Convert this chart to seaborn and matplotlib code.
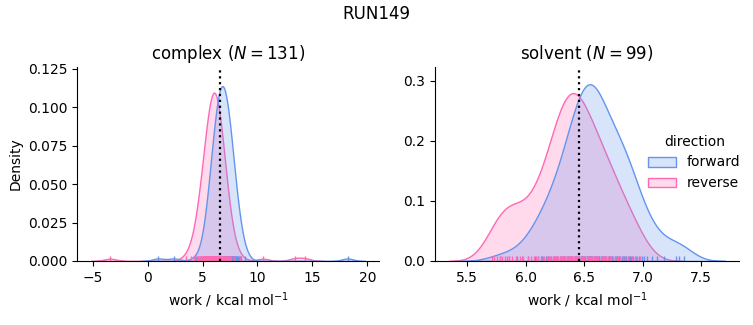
import matplotlib
matplotlib.use("Agg")
import matplotlib.pyplot as plt
import numpy as np
import pandas as pd
import seaborn as sns

# ---------------- data ----------------
phases = ["complex", "solvent"]
directions = ["forward", "reverse"]
colors = ["#6495ED", "#FF69B4"]
title_text = "RUN149"
estimates = [6.55, 6.46]
n_pairs = [131, 99]

complex_forward = [
    0.96, 2.40, 4.40,
    5.12, 5.25, 5.36, 5.46, 5.50, 5.54, 5.58,
    5.61, 5.65, 5.69, 5.72, 5.76, 5.79, 5.83, 5.86, 5.90, 5.93, 5.96, 5.99, 6.02, 6.05,
    6.08, 6.10, 6.12, 6.14, 6.15, 6.17, 6.19, 6.21, 6.23, 6.25, 6.27, 6.28, 6.30, 6.32,
    6.34, 6.36, 6.38, 6.39, 6.41, 6.43, 6.45, 6.47, 6.49, 6.50, 6.52, 6.54, 6.56,
    6.58, 6.59, 6.61, 6.62, 6.64, 6.65, 6.67, 6.68, 6.70, 6.71, 6.73, 6.74, 6.76, 6.77,
    6.79, 6.80, 6.82, 6.85, 6.86, 6.88, 6.89, 6.91, 6.94, 6.97, 6.98,
    7.00, 7.01, 7.03, 7.04, 7.05, 7.06,
    7.08, 7.10, 7.12, 7.14, 7.15, 7.17, 7.19, 7.21, 7.23, 7.25, 7.27, 7.28, 7.30, 7.32,
    7.34, 7.36, 7.38, 7.39, 7.41, 7.43, 7.45, 7.47, 7.49, 7.50, 7.52, 7.54, 7.56,
    7.59, 7.63, 7.67, 7.70, 7.74, 7.77, 7.81, 7.84, 7.88, 7.91, 7.94, 7.97, 8.00, 8.04,
    8.10, 8.12, 8.23, 8.34, 8.44, 8.53, 8.85, 18.20,
]

complex_reverse = [
    -3.40, 3.50, 3.95,
    4.25, 4.36, 4.46, 4.55, 4.63,
    4.70, 4.74, 4.78, 4.83, 4.87, 4.91, 4.95, 4.99, 5.03, 5.07, 5.11, 5.15,
    5.19, 5.21, 5.24, 5.26, 5.28, 5.30, 5.33, 5.35, 5.37, 5.39, 5.42, 5.44, 5.46, 5.48,
    5.51, 5.53, 5.55, 5.57, 5.60, 5.62, 5.64, 5.66,
    5.69, 5.70, 5.72, 5.73, 5.75, 5.76, 5.78, 5.79, 5.81, 5.82, 5.84, 5.85, 5.87, 5.88,
    5.90, 5.91, 5.93, 5.94, 5.96, 5.97, 5.99, 6.00, 6.02, 6.03, 6.05, 6.06, 6.08, 6.09,
    6.11, 6.13, 6.16,
    6.19, 6.20, 6.22, 6.23, 6.25, 6.26, 6.28, 6.29, 6.31, 6.33, 6.34, 6.36, 6.37, 6.39,
    6.40, 6.42, 6.44, 6.45, 6.47, 6.48, 6.50, 6.52, 6.53, 6.55, 6.57, 6.59, 6.61, 6.63, 6.66,
    6.70, 6.72, 6.75, 6.78, 6.80, 6.83, 6.86, 6.88, 6.91, 6.94, 6.96, 6.99, 7.02, 7.05,
    7.08, 7.11, 7.14, 7.17,
    7.22, 7.30, 7.38, 7.46, 7.54, 7.63, 7.90, 8.40,
    10.50, 13.40, 14.30,
]

solvent_forward = [
    5.78, 5.93, 6.02, 6.08, 6.11, 6.13, 6.14,
    6.17, 6.19, 6.22, 6.24,
    6.26, 6.27, 6.29, 6.30, 6.31, 6.33, 6.34,
    6.35, 6.36, 6.37, 6.38, 6.39, 6.40, 6.41, 6.42, 6.43, 6.44, 6.44,
    6.45, 6.46, 6.46, 6.47, 6.48, 6.48, 6.49, 6.50, 6.50, 6.51, 6.52, 6.52, 6.53, 6.54, 6.54,
    6.55, 6.55, 6.56, 6.56, 6.57, 6.57, 6.58, 6.58, 6.59, 6.60, 6.61, 6.61, 6.62,
    6.63, 6.63, 6.64,
    6.65, 6.66, 6.67, 6.68, 6.69, 6.70, 6.71, 6.72, 6.73, 6.73, 6.74,
    6.76, 6.77, 6.78, 6.79, 6.80, 6.81, 6.82, 6.83, 6.84, 6.85,
    6.86, 6.87, 6.88, 6.89, 6.90, 6.91, 6.92, 6.94,
    6.97, 6.99, 7.01, 7.04, 7.08, 7.12, 7.18, 7.28, 7.31, 7.35,
]

solvent_reverse = [
    5.71, 5.73, 5.76, 5.78, 5.80, 5.82, 5.84, 5.86, 5.86, 5.88,
    5.92, 5.95, 5.97, 5.98, 6.02, 6.05, 6.07, 6.09,
    6.11, 6.13, 6.15, 6.16, 6.18, 6.19,
    6.20, 6.21, 6.22, 6.23, 6.24, 6.25, 6.26, 6.27, 6.28, 6.29,
    6.30, 6.31, 6.31, 6.32, 6.33, 6.33, 6.34, 6.35, 6.35, 6.36, 6.37, 6.38, 6.38,
    6.39, 6.39,
    6.40, 6.40, 6.41, 6.42, 6.42, 6.43, 6.44, 6.45, 6.46, 6.46, 6.47, 6.48, 6.49, 6.49,
    6.50, 6.51, 6.52, 6.53, 6.54, 6.55, 6.56, 6.57, 6.58, 6.59, 6.59,
    6.60, 6.61, 6.62, 6.64, 6.65, 6.66, 6.67, 6.68, 6.69,
    6.70, 6.72, 6.73, 6.75, 6.76, 6.78, 6.79,
    6.81, 6.83, 6.85, 6.87, 6.40, 6.91, 6.93, 6.95, 6.98,
]

# ---------------- table ----------------
frames = []
for phase, fwd, rev in [("complex", complex_forward, complex_reverse),
                        ("solvent", solvent_forward, solvent_reverse)]:
    for direction, vals in [("forward", fwd), ("reverse", rev)]:
        frames.append(pd.DataFrame({"work": vals, "direction": direction, "phase": phase}))
df = pd.concat(frames, ignore_index=True)

# ---------------- plot ----------------
g = sns.displot(
    data=df, x="work", hue="direction", col="phase", kind="kde",
    fill=True, rug=True, hue_order=directions, col_order=phases,
    palette=dict(zip(directions, colors)),
    facet_kws=dict(sharex=False, sharey=False),
)
fig = g.figure
fig.set_size_inches(7.53, 3.25)

ylims = [(0, 0.1263), (0, 0.323)]
positions = [
    [77 / 753, 64 / 325, (379 - 77) / 753, (261 - 67) / 325],
    [435 / 753, 64 / 325, (739 - 435) / 753, (261 - 67) / 325],
]
for ax, phase, est, n, yl, pos in zip(g.axes.flat, phases, estimates, n_pairs, ylims, positions):
    ax.axvline(est, color="k", ls=":", lw=1.6)
    ax.set_title(f"{phase} ($N = {n}$)", fontsize=12)
    ax.set_xlabel("work / kcal mol$^{-1}$")
    ax.set_ylim(*yl)
    ax.set_position(pos)
g.axes.flat[0].set_ylabel("Density")
g.axes.flat[1].set_ylabel("")

sns.move_legend(g, "center left", bbox_to_anchor=(0.844, 0.5), frameon=False)
fig.suptitle(title_text, fontsize=12, y=0.985)

fig.savefig("out.png", dpi=100)
